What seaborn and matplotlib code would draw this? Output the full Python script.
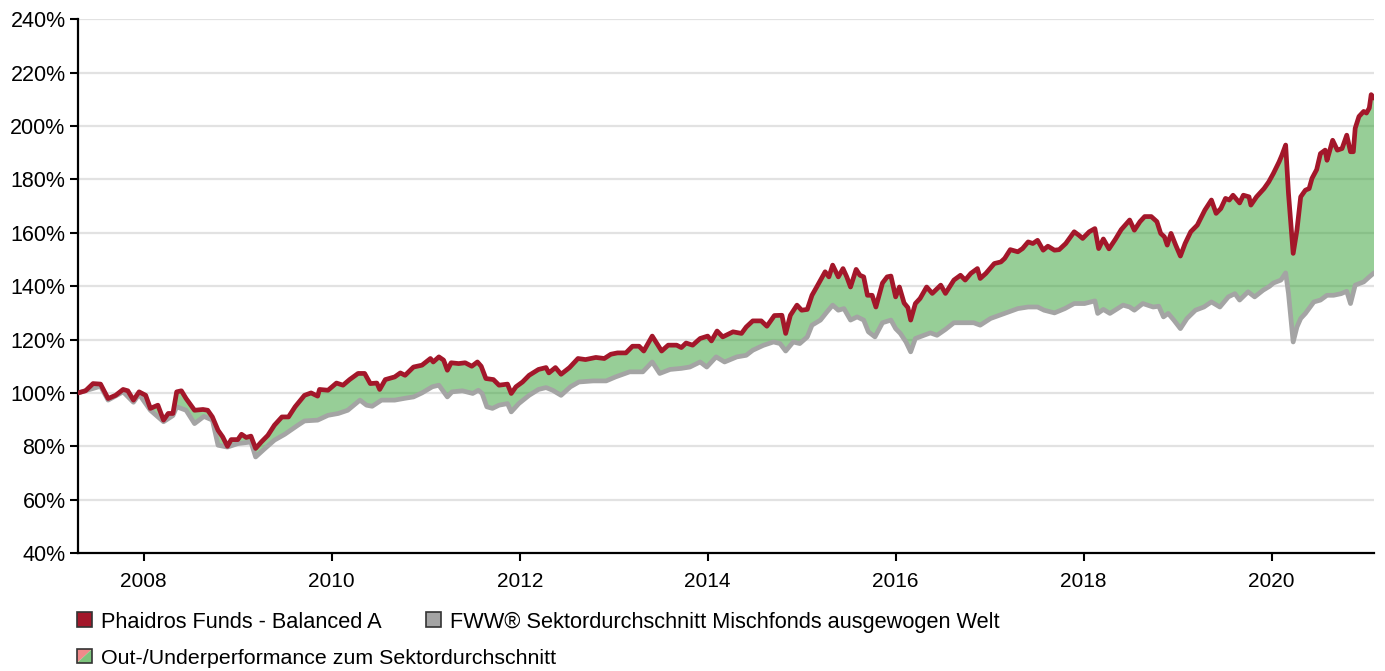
import numpy as np
import matplotlib
matplotlib.use("Agg")
import matplotlib.pyplot as plt
import seaborn as sns
from matplotlib.patches import Rectangle, Polygon
from matplotlib.legend_handler import HandlerBase

# Fund performance (decimal year, % of start value)
fund_dates = [2007.30, 2007.38, 2007.46, 2007.54, 2007.62, 2007.70, 2007.78, 2007.83, 2007.89, 2007.95,
              2008.02, 2008.07, 2008.15, 2008.21, 2008.26, 2008.31, 2008.35, 2008.40, 2008.45, 2008.54,
              2008.63, 2008.68, 2008.73, 2008.79, 2008.84, 2008.89, 2008.93, 2009.00, 2009.04, 2009.09,
              2009.14, 2009.19, 2009.25, 2009.32, 2009.39, 2009.47, 2009.54, 2009.61, 2009.71, 2009.78,
              2009.85, 2009.87, 2009.96, 2010.05, 2010.12, 2010.19, 2010.28, 2010.35, 2010.41, 2010.48,
              2010.51, 2010.57, 2010.67, 2010.73, 2010.78, 2010.87, 2010.96, 2011.05, 2011.08, 2011.14,
              2011.19, 2011.23, 2011.27, 2011.35, 2011.42, 2011.49, 2011.55, 2011.59, 2011.64, 2011.72,
              2011.78, 2011.87, 2011.91, 2011.96, 2012.03, 2012.10, 2012.20, 2012.28, 2012.31, 2012.38,
              2012.44, 2012.53, 2012.62, 2012.70, 2012.81, 2012.90, 2012.97, 2013.04, 2013.13, 2013.20,
              2013.27, 2013.32, 2013.41, 2013.51, 2013.58, 2013.67, 2013.72, 2013.77, 2013.84, 2013.92,
              2014.00, 2014.04, 2014.10, 2014.16, 2014.27, 2014.36, 2014.41, 2014.48, 2014.57, 2014.63,
              2014.71, 2014.79, 2014.83, 2014.88, 2014.95, 2015.00, 2015.06, 2015.11, 2015.16, 2015.25,
              2015.29, 2015.33, 2015.39, 2015.44, 2015.48, 2015.52, 2015.58, 2015.62, 2015.66, 2015.70,
              2015.75, 2015.79, 2015.86, 2015.91, 2015.95, 2016.00, 2016.04, 2016.09, 2016.13, 2016.16,
              2016.21, 2016.26, 2016.33, 2016.39, 2016.48, 2016.53, 2016.62, 2016.69, 2016.74, 2016.80,
              2016.87, 2016.90, 2016.96, 2017.05, 2017.12, 2017.16, 2017.22, 2017.30, 2017.35, 2017.41,
              2017.46, 2017.51, 2017.57, 2017.62, 2017.69, 2017.74, 2017.81, 2017.90, 2017.95, 2017.99,
              2018.06, 2018.12, 2018.16, 2018.21, 2018.27, 2018.34, 2018.40, 2018.49, 2018.54, 2018.60,
              2018.65, 2018.72, 2018.78, 2018.82, 2018.86, 2018.89, 2018.93, 2018.98, 2019.03, 2019.08,
              2019.14, 2019.21, 2019.29, 2019.36, 2019.41, 2019.46, 2019.51, 2019.55, 2019.59, 2019.66,
              2019.70, 2019.76, 2019.78, 2019.84, 2019.92, 2019.97, 2020.02, 2020.08, 2020.11, 2020.15,
              2020.18, 2020.23, 2020.27, 2020.31, 2020.36, 2020.40, 2020.43, 2020.48, 2020.52, 2020.57,
              2020.59, 2020.65, 2020.70, 2020.75, 2020.80, 2020.84, 2020.87, 2020.89, 2020.93, 2020.98,
              2021.01, 2021.04, 2021.06, 2021.09]
fund_vals = [100.0, 100.8, 103.5, 103.3, 97.9, 99.1, 101.3, 100.8, 97.3, 100.4,
             99.1, 94.2, 95.4, 89.8, 92.3, 92.3, 100.4, 100.8, 97.9, 93.5,
             93.8, 93.5, 91.0, 86.0, 83.5, 80.0, 82.5, 82.5, 84.5, 83.3,
             83.8, 79.2, 81.6, 84.1, 87.9, 91.0, 91.0, 94.8, 99.1, 100.0,
             98.8, 101.3, 101.0, 103.7, 102.9, 105.0, 107.3, 107.3, 103.5, 103.7,
             101.3, 105.0, 106.0, 107.5, 106.6, 109.7, 110.4, 112.9, 111.6, 113.5,
             112.3, 108.5, 111.3, 111.0, 111.3, 110.0, 111.6, 110.0, 105.4, 105.0,
             102.9, 103.3, 99.8, 102.3, 104.1, 106.6, 108.8, 109.5, 107.5, 109.5,
             107.0, 109.5, 112.9, 112.5, 113.3, 112.9, 114.5, 115.0, 115.0, 117.5,
             117.5, 115.7, 121.3, 115.7, 117.9, 117.9, 117.0, 118.7, 117.9, 120.4,
             121.3, 119.5, 123.2, 121.0, 122.9, 122.3, 124.7, 127.0, 127.0, 125.0,
             129.0, 129.1, 122.3, 129.1, 132.9, 131.0, 131.3, 136.6, 139.7, 145.4,
             143.5, 147.9, 143.5, 146.6, 143.5, 139.7, 146.3, 144.1, 143.5, 136.6,
             136.6, 132.2, 141.2, 143.5, 143.8, 136.0, 139.7, 133.7, 132.0, 127.3,
             133.5, 135.4, 139.7, 137.3, 140.4, 137.3, 142.3, 144.1, 142.3, 144.8,
             146.6, 142.9, 144.8, 148.5, 149.1, 150.4, 153.7, 152.9, 154.1, 156.6,
             156.0, 157.2, 153.5, 155.0, 153.5, 153.7, 156.0, 160.4, 159.1, 157.9,
             160.4, 161.6, 154.1, 157.7, 154.0, 157.7, 161.2, 164.8, 161.0, 164.2,
             166.1, 166.1, 164.2, 159.8, 158.5, 155.4, 159.8, 155.4, 151.3, 156.0,
             160.4, 162.9, 168.5, 172.3, 167.3, 169.1, 172.9, 172.3, 174.1, 171.2,
             174.1, 173.5, 170.4, 173.5, 176.6, 179.1, 182.3, 186.6, 189.1, 192.9,
             174.8, 152.3, 161.0, 173.5, 176.0, 176.6, 180.4, 183.7, 189.7, 191.0,
             187.2, 194.7, 191.0, 191.6, 196.6, 190.4, 190.4, 199.2, 203.6, 205.5,
             204.9, 206.8, 211.8, 210.5]

# Sector average
sector_dates = [2007.30, 2007.54, 2007.62, 2007.78, 2007.89, 2007.95, 2008.07, 2008.21, 2008.31, 2008.35,
                2008.45, 2008.54, 2008.64, 2008.73, 2008.79, 2008.89, 2009.00, 2009.14, 2009.19, 2009.29,
                2009.39, 2009.50, 2009.64, 2009.71, 2009.85, 2009.96, 2010.07, 2010.17, 2010.30, 2010.37,
                2010.43, 2010.53, 2010.67, 2010.78, 2010.87, 2010.96, 2011.07, 2011.14, 2011.23, 2011.28,
                2011.39, 2011.50, 2011.56, 2011.60, 2011.65, 2011.71, 2011.78, 2011.87, 2011.91, 2011.99,
                2012.10, 2012.20, 2012.28, 2012.35, 2012.44, 2012.54, 2012.63, 2012.78, 2012.92, 2013.02,
                2013.17, 2013.31, 2013.41, 2013.49, 2013.60, 2013.72, 2013.81, 2013.92, 2013.99, 2014.09,
                2014.18, 2014.31, 2014.41, 2014.48, 2014.59, 2014.70, 2014.77, 2014.83, 2014.91, 2014.98,
                2015.06, 2015.11, 2015.20, 2015.27, 2015.33, 2015.39, 2015.45, 2015.52, 2015.59, 2015.66,
                2015.71, 2015.78, 2015.86, 2015.95, 2016.00, 2016.05, 2016.11, 2016.16, 2016.21, 2016.30,
                2016.37, 2016.44, 2016.53, 2016.62, 2016.73, 2016.83, 2016.90, 2017.01, 2017.16, 2017.30,
                2017.41, 2017.51, 2017.58, 2017.69, 2017.80, 2017.90, 2018.01, 2018.12, 2018.15, 2018.21,
                2018.28, 2018.42, 2018.49, 2018.54, 2018.63, 2018.74, 2018.80, 2018.85, 2018.90, 2018.96,
                2019.03, 2019.10, 2019.19, 2019.28, 2019.36, 2019.45, 2019.54, 2019.61, 2019.66, 2019.75,
                2019.82, 2019.91, 2019.98, 2020.02, 2020.10, 2020.15, 2020.18, 2020.23, 2020.27, 2020.31,
                2020.36, 2020.45, 2020.52, 2020.59, 2020.66, 2020.74, 2020.80, 2020.84, 2020.89, 2020.98,
                2021.04, 2021.09]
sector_vals = [100.0, 102.5, 97.3, 100.4, 96.5, 99.5, 93.5, 89.2, 91.5, 94.8,
               93.5, 88.5, 91.2, 89.8, 80.4, 79.7, 81.0, 81.6, 76.0, 79.2,
               82.3, 84.5, 87.9, 89.5, 89.8, 91.6, 92.3, 93.5, 97.3, 95.4,
               95.0, 97.3, 97.3, 98.0, 98.5, 100.0, 102.3, 102.9, 98.5, 100.4,
               100.8, 99.8, 101.0, 99.8, 94.8, 94.2, 95.4, 96.0, 92.9, 96.0,
               99.1, 101.3, 102.0, 101.0, 99.1, 102.3, 104.1, 104.5, 104.5, 106.0,
               107.9, 107.9, 111.6, 107.3, 108.8, 109.2, 109.7, 111.6, 109.7, 113.5,
               111.6, 113.5, 114.1, 116.0, 117.8, 119.1, 118.5, 115.7, 119.1, 118.5,
               121.0, 125.4, 127.3, 130.4, 132.9, 131.0, 131.6, 127.3, 128.5, 127.3,
               122.9, 121.0, 126.3, 127.3, 124.1, 122.3, 119.1, 115.4, 120.4, 121.6,
               122.5, 121.6, 123.8, 126.3, 126.3, 126.3, 125.4, 127.9, 129.8, 131.6,
               132.2, 132.2, 131.0, 130.0, 131.6, 133.5, 133.5, 134.5, 129.8, 131.3,
               129.8, 132.9, 132.2, 131.0, 133.5, 132.2, 132.5, 128.5, 129.8, 127.3,
               124.1, 127.9, 131.0, 132.2, 134.1, 132.2, 136.0, 137.2, 134.8, 137.9,
               136.0, 138.5, 140.0, 141.2, 142.3, 145.0, 137.3, 119.1, 124.7, 127.9,
               129.8, 134.1, 134.8, 136.6, 136.6, 137.2, 138.1, 133.5, 140.4, 141.6,
               143.5, 145.0]

year_ticks = [2008, 2010, 2012, 2014, 2016, 2018, 2020]
pct_ticks = [40, 60, 80, 100, 120, 140, 160, 180, 200, 220, 240]

labels = ["Phaidros Funds - Balanced A",
          "FWW® Sektordurchschnitt Mischfonds ausgewogen Welt",
          "Out-/Underperformance zum Sektordurchschnitt"]

FUND_RED = "#a3172a"
SECTOR_GRAY = "#a4a4a4"
OUT_GREEN = "#319f31"
UNDER_RED = "#f07080"

sns.set_style("white")
plt.rcParams["font.family"] = ["Liberation Sans", "DejaVu Sans"]

fig = plt.figure(figsize=(13.85, 6.71), dpi=100)
ax = fig.add_axes([78 / 1385, 1 - 553 / 671, (1374 - 78) / 1385, (553 - 19.4) / 671])

# horizontal grid
for v in pct_ticks[1:]:
    ax.axhline(v, color="#e2e2e2", lw=1.6, zorder=0)

# area between fund and sector (common grid only for the shading)
grid = np.union1d(fund_dates, sector_dates)
f_i = np.interp(grid, fund_dates, fund_vals)
s_i = np.interp(grid, sector_dates, sector_vals)
ax.fill_between(grid, s_i, f_i, where=f_i >= s_i, interpolate=True,
                color=OUT_GREEN, alpha=0.5, lw=0, zorder=1)
ax.fill_between(grid, s_i, f_i, where=f_i < s_i, interpolate=True,
                color=UNDER_RED, alpha=0.6, lw=0, zorder=1)

sns.lineplot(x=sector_dates, y=sector_vals, ax=ax, color=SECTOR_GRAY, lw=3.4,
             estimator=None, zorder=2)
sns.lineplot(x=fund_dates, y=fund_vals, ax=ax, color=FUND_RED, lw=3.4,
             estimator=None, zorder=3)

ax.set_xlim(fund_dates[0], fund_dates[-1])
ax.set_ylim(pct_ticks[0], pct_ticks[-1])
ax.set_xticks(year_ticks)
ax.set_xticklabels([str(y) for y in year_ticks])
ax.set_yticks(pct_ticks)
ax.set_yticklabels([f"{v}%" for v in pct_ticks])
ax.tick_params(axis="both", labelsize=15.5, colors="black", length=6, width=1.5,
               direction="out", left=True, bottom=True)
ax.tick_params(axis="x", labelsize=15, pad=8)
ax.tick_params(axis="y", pad=3)
for side in ["top", "right"]:
    ax.spines[side].set_visible(False)
for side in ["left", "bottom"]:
    ax.spines[side].set_color("black")
    ax.spines[side].set_linewidth(1.6)
ax.set_xlabel("")
ax.set_ylabel("")


class SplitSquare:
    pass


class SplitSquareHandler(HandlerBase):
    def create_artists(self, legend, orig_handle, xdescent, ydescent,
                       width, height, fontsize, trans):
        x0, y0 = -xdescent, -ydescent
        upper = Polygon([[x0, y0], [x0, y0 + height], [x0 + width, y0 + height]],
                        closed=True, facecolor="#f08a8a", edgecolor="none", transform=trans)
        lower = Polygon([[x0, y0], [x0 + width, y0], [x0 + width, y0 + height]],
                        closed=True, facecolor="#7cc47c", edgecolor="none", transform=trans)
        frame = Rectangle((x0, y0), width, height, facecolor="none",
                          edgecolor="#333333", lw=1.2, transform=trans)
        return [upper, lower, frame]


h_fund = Rectangle((0, 0), 1, 1, facecolor=FUND_RED, edgecolor="#333333", lw=1.2)
h_sector = Rectangle((0, 0), 1, 1, facecolor=SECTOR_GRAY, edgecolor="#333333", lw=1.2)

leg_kw = dict(frameon=False, handlelength=0.68, handleheight=0.68, labelcolor="black",
              handletextpad=0.42, borderpad=0, borderaxespad=0, loc="center left")
leg1 = fig.legend([h_fund, h_sector], labels[:2], ncol=2, columnspacing=2.05, fontsize=15.7,
                  bbox_to_anchor=(77 / 1385, 1 - 622 / 671), **leg_kw)
leg2 = fig.legend([SplitSquare()], labels[2:], handler_map={SplitSquare: SplitSquareHandler()},
                  fontsize=15.4, bbox_to_anchor=(77 / 1385, 1 - 658 / 671), **leg_kw)

fig.savefig("out.png", dpi=100)
